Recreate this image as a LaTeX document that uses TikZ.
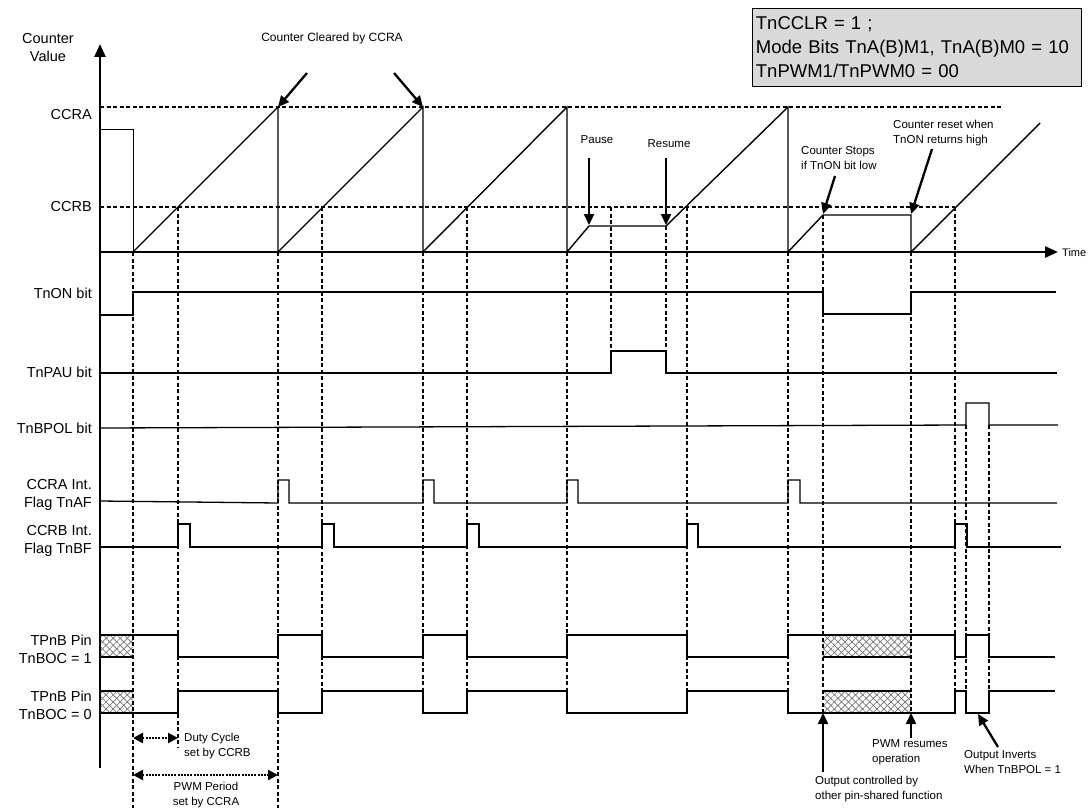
\documentclass[tikz,border=0pt]{standalone}
\usepackage{fontspec}
\setmainfont{Liberation Sans}
\usetikzlibrary{arrows.meta,patterns.meta}
\begin{document}
\begin{tikzpicture}[x=1pt,y=-1pt,
  axis/.style={line width=2.6pt},
  wave/.style={line width=1.3pt, line join=miter},
  ramp/.style={line width=1.4pt},
  guide/.style={line width=1.2pt, dash pattern=on 4pt off 2.5pt},
  callout/.style={line width=2.3pt, -{Triangle[length=11pt,width=10pt]}},
  dimarrow/.style={line width=2.2pt, dash pattern=on 2pt off 1.2pt,
     {Triangle[length=10pt,width=10pt]}-{Triangle[length=10pt,width=10pt]}},
  lbl/.style={font=\fontsize{14.5}{18}\selectfont, anchor=east, align=right, inner sep=0pt},
  note/.style={font=\fontsize{11.5}{15}\selectfont, align=left, inner sep=0pt},
  hatchA/.style={pattern={Lines[angle=45,distance=5pt,line width=0.7pt]}, pattern color=black!55},
  hatchB/.style={pattern={Lines[angle=-45,distance=5pt,line width=0.7pt]}, pattern color=black!55}]
\useasboundingbox (0,0) rectangle (1089,808);

% ---------- mode box
\node[draw, line width=0.8pt, fill=black!15, anchor=north west, minimum width=329pt,
      minimum height=78pt, text width=322pt, align=left, inner xsep=3pt,
      font=\fontsize{18.5}{24}\selectfont] (modebox) at (752,8)
  {TnCCLR = 1 ;\\Mode Bits TnA(B)M1, TnA(B)M0 = 10\\TnPWM1/TnPWM0 = 00};

% ---------- hatched regions
\foreach \xa/\xb/\ya/\yb in {100/133/635/657, 100/133/691/713, 823/911/635/657, 823/911/691/713}{
  \fill[hatchA] (\xa,\ya) rectangle (\xb,\yb);
  \fill[hatchB] (\xa,\ya) rectangle (\xb,\yb);
  \draw[wave] (\xa,\ya) -- (\xb,\ya) (\xa,\yb) -- (\xb,\yb);
}

% ---------- reference levels
\draw[guide] (100,107) -- (1002,107);
\draw[guide] (100,207) -- (955,207);

% ---------- vertical guides
\foreach \x/\ya/\yb in {133/252/808, 178/207/748, 278/252/808, 322/207/713, 423/252/713,
   467/207/713, 567/252/713, 611/207/351, 666/226/351, 687/207/713, 788/252/713,
   823/215/713, 911/252/713, 955/207/713, 966/425/713, 989/425/713}{
  \draw[guide] (\x,\ya) -- (\x,\yb);
}

% ---------- counter trace
\draw[line width=1pt] (100,129) -- (133,129) -- (133,252);
\draw[ramp] (133,252) -- (278,107) -- (278,252) -- (423,107) -- (423,252) -- (567,107) -- (567,252)
  -- (589,226) -- (666,226) -- (788,107) -- (788,252) -- (823,215) -- (911,215) -- (911,252)
  -- (1040,123);

% ---------- axes
\coordinate (yorig) at (100,768);
\coordinate (ytop) at (100,44);
\coordinate (xorig) at (100,252);
\coordinate (xend) at (1058,252);
\draw[axis, -{Triangle[length=13pt,width=11pt]}] (yorig) -- (ytop);
\draw[axis, -{Triangle[length=13pt,width=11pt]}] (xorig) -- (xend);
\node[note, anchor=west, font=\fontsize{11}{13}\selectfont] (timelbl) at (1062,253) {Time};

% ---------- left labels
\node[lbl, align=center, anchor=center] (cvlbl) at (48,48) {Counter\\Value};
\node[lbl] (ccralbl) at (92,115) {CCRA};
\node[lbl] (ccrblbl) at (92,207) {CCRB};
\node[lbl] (tnonlbl) at (92,293) {TnON bit};
\node[lbl] (tnpaulbl) at (92,372) {TnPAU bit};
\node[lbl] (tnbpollbl) at (92,428) {TnBPOL bit};
\node[lbl] (tnaflbl) at (92,495) {CCRA Int.\\Flag TnAF};
\node[lbl] (tnbflbl) at (92,541) {CCRB Int.\\Flag TnBF};
\node[lbl] (pin1lbl) at (92,649) {TPnB Pin\\TnBOC = 1};
\node[lbl] (pin0lbl) at (92,705) {TPnB Pin\\TnBOC = 0};

% ---------- digital waveforms
\draw[wave] (100,315) -- (133,315) -- (133,292) -- (823,292) -- (823,314) -- (911,314) -- (911,292) -- (1056,292);
\draw[wave] (100,373) -- (611,373) -- (611,351) -- (666,351) -- (666,373) -- (1057,373);
\draw[wave] (100,428) -- (966,425) -- (966,403) -- (989,403) -- (989,425) -- (1058,425);
\draw[wave] (100,501) -- (278,503) -- (278,480) -- (289,480) -- (289,503) -- (423,503) -- (423,480)
  -- (434,480) -- (434,503) -- (567,503) -- (567,480) -- (578,480) -- (578,503) -- (788,503)
  -- (788,480) -- (800,480) -- (800,503) -- (1057,503);
\draw[wave] (100,547) -- (178,547) -- (178,524) -- (190,524) -- (190,547) -- (322,547) -- (322,524)
  -- (334,524) -- (334,547) -- (467,547) -- (467,524) -- (479,524) -- (479,547) -- (687,547)
  -- (687,524) -- (698,524) -- (698,547) -- (955,547) -- (955,524) -- (967,524) -- (967,547) -- (1061,547);
\draw[wave] (133,635) -- (178,635) -- (178,657) -- (278,657) -- (278,635) -- (322,635) -- (322,657)
  -- (423,657) -- (423,635) -- (467,635) -- (467,657) -- (567,657) -- (567,635) -- (687,635)
  -- (687,657) -- (788,657) -- (788,635) -- (955,635) -- (955,657) -- (966,657) -- (966,635)
  -- (989,635) -- (989,657) -- (1055,657);
\draw[wave] (133,713) -- (178,713) -- (178,691) -- (278,691) -- (278,713) -- (322,713) -- (322,691)
  -- (423,691) -- (423,713) -- (467,713) -- (467,691) -- (567,691) -- (567,713) -- (687,713)
  -- (687,691) -- (788,691) -- (788,713) -- (955,713) -- (955,691) -- (966,691) -- (966,713)
  -- (989,713) -- (989,691) -- (1055,691);

% ---------- callouts on counter
\node[note, font=\fontsize{12}{14}\selectfont] (clrlbl) at (332,38) {Counter Cleared by CCRA};
\coordinate (clrA) at (278,107); \coordinate (clrAt) at (307,73);
\coordinate (clrB) at (423,107); \coordinate (clrBt) at (394,73);
\draw[callout] (clrAt) -- (clrA);
\draw[callout] (clrBt) -- (clrB);

\node[note] (pauselbl) at (597,140) {Pause};
\node[note] (resumelbl) at (669,144) {Resume};
\coordinate (pauseT) at (589,158); \coordinate (pauseP) at (589,225);
\coordinate (resT) at (666,158); \coordinate (resP) at (666,225);
\draw[callout] (pauseT) -- (pauseP);
\draw[callout] (resT) -- (resP);

\node[note, anchor=west] (stoplbl) at (801,158) {Counter Stops\\if TnON bit low};
\coordinate (stopT) at (835,176); \coordinate (stopP) at (823,214);
\draw[callout] (stopT) -- (stopP);

\node[note, anchor=west] (resetlbl) at (893,133) {Counter reset when\\TnON returns high};
\coordinate (resetT) at (932,149); \coordinate (resetP) at (911,214);
\draw[callout] (resetT) -- (resetP);

% ---------- bottom annotations
\coordinate (dutyL) at (133,738); \coordinate (dutyR) at (178,738);
\draw[dimarrow] (dutyL) -- (dutyR);
\node[note, anchor=west] (dutylbl) at (184,746) {Duty Cycle\\set by CCRB};
\coordinate (perL) at (133,775); \coordinate (perR) at (278,775);
\draw[dimarrow] (perL) -- (perR);
\node[note, align=center] (perlbl) at (206,795) {PWM Period\\set by CCRA};

\node[note, anchor=west] (otherlbl) at (815,789) {Output controlled by\\other pin-shared function};
\coordinate (otherT) at (823,772); \coordinate (otherP) at (823,713);
\draw[callout] (otherT) -- (otherP);

\node[note, anchor=west] (pwmrlbl) at (872,752) {PWM resumes\\operation};
\coordinate (pwmrT) at (911,738); \coordinate (pwmrP) at (911,713);
\draw[callout] (pwmrT) -- (pwmrP);

\node[note, anchor=west] (invlbl) at (964,762) {Output Inverts\\When TnBPOL = 1};
\coordinate (invT) at (998,747); \coordinate (invP) at (978,714);
\draw[callout] (invT) -- (invP);
\end{tikzpicture}
\end{document}
